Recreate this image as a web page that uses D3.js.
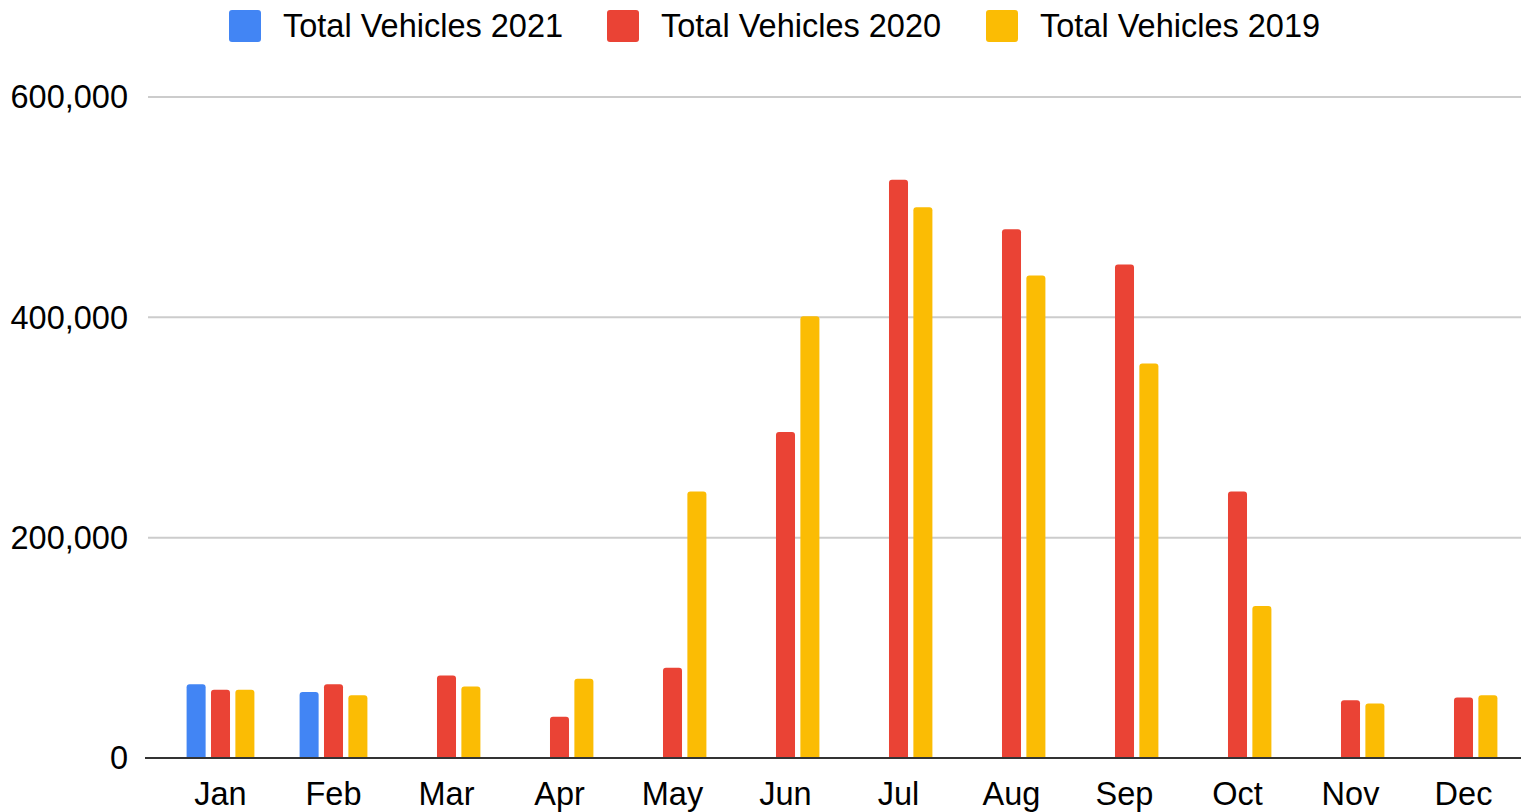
<!DOCTYPE html>
<html>
<head>
<meta charset="utf-8">
<script src="https://cdn.jsdelivr.net/npm/d3@7"></script>
<style>
  html, body { margin: 0; padding: 0; background: #fff; }
  svg { display: block; }
  text { font-family: "Liberation Sans", Arial, sans-serif; fill: #000; }
</style>
</head>
<body>
<svg id="chart" width="1521" height="812"></svg>
<script>
const months = ["Jan","Feb","Mar","Apr","May","Jun","Jul","Aug","Sep","Oct","Nov","Dec"];
const seriesNames = ["Total Vehicles 2021","Total Vehicles 2020","Total Vehicles 2019"];
const seriesColors = ["#4285F4","#EA4335","#FBBC04"];
const values2021 = [67000, 60000, null, null, null, null, null, null, null, null, null, null];
const values2020 = [62000, 67000, 75000, 37500, 82000, 296000, 525000, 480000, 448000, 242000, 52500, 55000];
const values2019 = [62000, 57000, 65000, 72000, 242000, 401000, 500000, 438000, 358000, 138000, 49500, 57000];
const yTicks = [0, 200000, 400000, 600000];

const seriesValues = [values2021, values2020, values2019];
const FS = "32.5px";

const svg = d3.select("#chart");
const x0 = d3.scaleBand().domain(months).range([164, 1520]).paddingInner(0.4).paddingOuter(0.2);
const x1 = d3.scaleBand().domain(d3.range(3)).range([0, x0.bandwidth()]).paddingInner(0.22);
const y = d3.scaleLinear().domain([0, 600000]).range([758, 97]);

// gridlines
svg.append("g").selectAll("line").data(yTicks.filter(d => d > 0)).join("line")
  .attr("x1", 148).attr("x2", 1521)
  .attr("y1", d => y(d)).attr("y2", d => y(d))
  .attr("stroke", "#cccccc").attr("stroke-width", 2);

// y labels
const fmt = d3.format(",");
svg.append("g").selectAll("text").data(yTicks).join("text")
  .attr("x", 128).attr("y", d => y(d))
  .attr("dy", "0.35em")
  .attr("text-anchor", "end")
  .style("font-size", FS)
  .text(d => fmt(d));

// bars
function barPath(x, yTop, w, yBase, r) {
  const h = yBase - yTop;
  r = Math.min(r, h / 2, w / 2);
  return `M${x},${yBase}V${yTop + r}Q${x},${yTop} ${x + r},${yTop}H${x + w - r}Q${x + w},${yTop} ${x + w},${yTop + r}V${yBase}Z`;
}
const barData = [];
months.forEach((m, i) => {
  seriesValues.forEach((vals, s) => {
    if (vals[i] != null) barData.push({ m, s, v: vals[i] });
  });
});
svg.append("g").selectAll("path").data(barData).join("path")
  .attr("d", d => barPath(x0(d.m) + x1(d.s), y(d.v), x1.bandwidth(), y(0), 3))
  .attr("fill", d => seriesColors[d.s]);

// baseline
svg.append("line").attr("x1", 145).attr("x2", 1521)
  .attr("y1", y(0)).attr("y2", y(0))
  .attr("stroke", "#333333").attr("stroke-width", 2);

// x labels
const xAxis = d3.axisBottom(x0).tickSize(0).tickPadding(0);
const gx = svg.append("g").attr("transform", `translate(0, ${y(0)})`).call(xAxis);
gx.select(".domain").remove();
gx.selectAll("text")
  .attr("y", 47).attr("dy", null)
  .style("font-size", FS)
  .style("font-family", '"Liberation Sans", Arial, sans-serif')
  .attr("fill", "#000");

// legend
const legendX = [229, 607, 986];
const lg = svg.append("g").selectAll("g").data(seriesNames).join("g")
  .attr("transform", (d, i) => `translate(${legendX[i]}, 10)`);
lg.append("rect").attr("width", 32).attr("height", 32).attr("rx", 3)
  .attr("fill", (d, i) => seriesColors[i]);
lg.append("text").attr("x", 54).attr("y", 16).attr("dy", "0.35em")
  .style("font-size", FS).text(d => d);
</script>
</body>
</html>
